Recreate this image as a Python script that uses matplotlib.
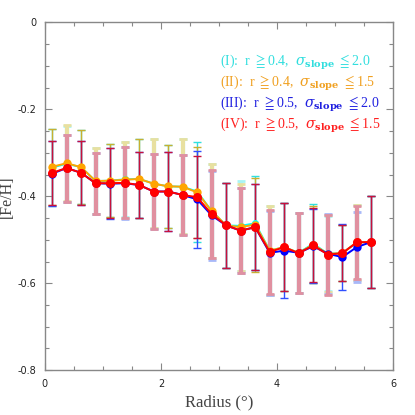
import numpy as np
import matplotlib
matplotlib.use("Agg")
import matplotlib.pyplot as plt
from matplotlib.ticker import MultipleLocator

radius = [0.125, 0.375, 0.625, 0.875, 1.125, 1.375, 1.625, 1.875, 2.125, 2.375, 2.625, 2.875,
          3.125, 3.375, 3.625, 3.875, 4.125, 4.375, 4.625, 4.875, 5.125, 5.375, 5.625]

feh_I = [-0.334, -0.325, -0.333, -0.365, -0.364, -0.361, -0.360, -0.371, -0.377, -0.378, -0.389, -0.434,
         -0.467, -0.468, -0.462, -0.525, -0.517, -0.530, -0.509, -0.532, -0.531, -0.506, -0.505]
err_I = [0.089, 0.087, 0.085, 0.075, 0.084, 0.087, 0.091, 0.103, 0.095, 0.109, 0.115, 0.108,
         0.098, 0.104, 0.108, 0.103, 0.102, 0.092, 0.091, 0.087, 0.064, 0.086, 0.105]

feh_II = [-0.332, -0.324, -0.333, -0.365, -0.364, -0.362, -0.360, -0.371, -0.377, -0.378, -0.391, -0.434,
          -0.467, -0.471, -0.465, -0.525, -0.517, -0.530, -0.511, -0.532, -0.531, -0.506, -0.505]
err_II = [0.087, 0.087, 0.085, 0.075, 0.084, 0.088, 0.091, 0.103, 0.095, 0.109, 0.104, 0.108,
          0.098, 0.100, 0.108, 0.103, 0.102, 0.092, 0.088, 0.089, 0.064, 0.086, 0.105]

feh_III = [-0.348, -0.335, -0.346, -0.370, -0.371, -0.370, -0.374, -0.389, -0.389, -0.397, -0.407, -0.444,
           -0.467, -0.479, -0.471, -0.530, -0.525, -0.530, -0.515, -0.532, -0.540, -0.517, -0.505]
err_III = [0.075, 0.077, 0.073, 0.070, 0.081, 0.083, 0.077, 0.087, 0.090, 0.091, 0.111, 0.102,
           0.098, 0.097, 0.099, 0.097, 0.109, 0.092, 0.085, 0.092, 0.076, 0.080, 0.105]

feh_IV = [-0.346, -0.335, -0.346, -0.370, -0.370, -0.369, -0.374, -0.389, -0.389, -0.397, -0.402, -0.441,
          -0.467, -0.479, -0.471, -0.528, -0.517, -0.531, -0.513, -0.534, -0.531, -0.506, -0.505]
err_IV = [0.073, 0.077, 0.073, 0.070, 0.080, 0.082, 0.077, 0.087, 0.090, 0.091, 0.095, 0.102,
          0.098, 0.097, 0.099, 0.097, 0.101, 0.092, 0.085, 0.092, 0.064, 0.084, 0.105]

labels = [r"(I):  r $\geqq$0.4,  $\sigma_{\mathbf{slope}}$ $\leqq$2.0",
          r"(II):  r $\geqq$0.4,  $\sigma_{\mathbf{slope}}$ $\leqq$1.5",
          r"(III):  r $\geqq$0.5,  $\sigma_{\mathbf{slope}}$ $\leqq$2.0",
          r"(IV):  r $\geqq$0.5,  $\sigma_{\mathbf{slope}}$ $\leqq$1.5"]

# line colour, thin bar colour, thick bar colour, text colour
series = [
    (feh_I, err_I, "#00ffff", "#30e0e0", "#a8f4f4", "#30dede"),
    (feh_II, err_II, "#ffa500", "#c8b030", "#e8e0a0", "#f0a020"),
    (feh_III, err_III, "#0000ff", "#3050ff", "#a8b8f8", "#2020e0"),
    (feh_IV, err_IV, "#ff0000", "#c8103c", "#e090a0", "#ff2020"),
]

plt.rcParams['mathtext.fontset'] = 'dejavuserif'
fig = plt.figure(figsize=(4.15, 4.15), dpi=100)
ax = fig.add_axes([0.108, 0.108, 0.839, 0.838])

x = np.array(radius)
for feh, err, lc, thin_c, thick_c, tc in series:
    y = np.array(feh)
    e = np.array(err)
    ax.errorbar(x[0::2], y[0::2], yerr=e[0::2], fmt='none', ecolor=thin_c,
                elinewidth=1.0, capsize=3, capthick=1.0, zorder=2)
    ax.errorbar(x[1::2], y[1::2], yerr=e[1::2], fmt='none', ecolor=thick_c,
                elinewidth=3.0, capsize=3, capthick=2.0, zorder=2)

sizes = [5.0, 6.0, 6.0, 6.5]
for (feh, err, lc, thin_c, thick_c, tc), ms in zip(series, sizes):
    ax.plot(x, feh, '-', color=lc, lw=1.4, marker='o', ms=ms,
            markeredgewidth=0, zorder=3)

ax.set_xlim(0, 6)
ax.set_ylim(-0.8, 0)
ax.xaxis.set_minor_locator(MultipleLocator(0.5))
ax.yaxis.set_minor_locator(MultipleLocator(0.05))
ax.set_xticks([0, 2, 4, 6])
ax.set_xticklabels(["0", "2", "4", "6"])
ax.set_yticks([0, -0.2, -0.4, -0.6, -0.8])
ax.set_yticklabels(["0", "-0.2", "-0.4", "-0.6", "-0.8"])
ax.tick_params(which='both', direction='in', top=True, right=True, color='#888888',
               labelsize=7, labelcolor='#222222')
ax.tick_params(which='major', length=5, width=0.8, pad=6)
ax.tick_params(which='minor', length=3, width=0.8)
for s in ax.spines.values():
    s.set_color('#888888')
    s.set_linewidth(1.0)

serif = ['Liberation Serif', 'DejaVu Serif']
ax.set_xlabel("Radius (°)", family=serif, fontsize=12, color='#444444', labelpad=4)
ax.set_ylabel("[Fe/H]", family=serif, fontsize=11.5, color='#444444')
ax.yaxis.set_label_coords(-0.085, 0.5)

ypos = [0.885, 0.825, 0.765, 0.705]
for lab, yp, s in zip(labels, ypos, series):
    ax.text(0.503, yp, lab, transform=ax.transAxes, ha='left', va='center',
            color=s[5], family=serif, fontsize=10)

fig.savefig("out.png", dpi=100)
